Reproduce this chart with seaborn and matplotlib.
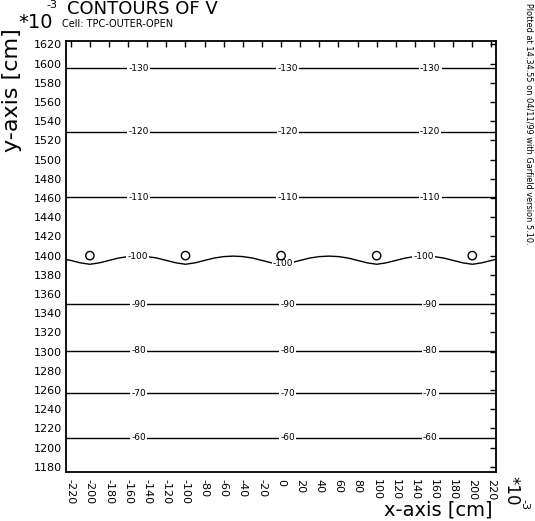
import numpy as np
import pandas as pd
import seaborn as sns
import matplotlib.pyplot as plt

# straight contour lines (level, y position in 1e-3 cm)
flat_levels = [-130, -120, -110, -90, -80, -70, -60]
flat_y = [1595, 1529, 1461, 1349.5, 1301, 1256.7, 1210.6]
flat_label_x = [-149, 7, 156]

# the wavy -100 contour that passes the wire plane
wave_x = [-225, -220, -210, -200, -190, -180, -170, -160, -150, -140, -130,
          -120, -110, -100, -90, -80, -70, -60, -50, -40, -30, -20, -10, 0,
          10, 20, 30, 40, 50, 60, 70, 80, 90, 100, 110, 120, 130, 140, 150,
          160, 170, 180, 190, 200, 210, 220, 224.5]
wave_y = [1396, 1395, 1392.5, 1391, 1392.5, 1395, 1397.5, 1399, 1399.5, 1399, 1397.5,
          1395, 1392.5, 1391, 1392.5, 1395, 1397.5, 1399, 1399.5, 1399, 1397.5, 1395, 1392.5, 1391,
          1392.5, 1395, 1397.5, 1399, 1399.5, 1399, 1397.5, 1395, 1392.5, 1391, 1392.5, 1395, 1397.5, 1399, 1399.5,
          1399, 1397.5, 1395, 1392.5, 1391, 1392.5, 1395, 1396]
wave_label_x = [-150, 2, 149]
wave_label_y = [1399.5, 1392, 1399.5]

# wires
wire_x = [-200, -100, 0, 100, 200]
wire_y = [1400, 1400, 1400, 1400, 1400]

xticks = list(range(-220, 221, 20))
yticks = list(range(1180, 1621, 20))

sns.set_theme(style='white')
plt.rcParams['font.family'] = ['DejaVu Sans']
plt.rcParams['text.color'] = 'black'
plt.rcParams['xtick.color'] = 'black'
plt.rcParams['ytick.color'] = 'black'

W, H = 535, 521
fig = plt.figure(figsize=(W / 100, H / 100), dpi=100)
ax = fig.add_axes([66 / W, 1 - 471.7 / H, 429.7 / W, 430.7 / H])

for y in flat_y:
    ax.axhline(y, color='black', lw=1.0)

wave = pd.DataFrame({'x': wave_x, 'y': wave_y})
sns.lineplot(data=wave, x='x', y='y', sort=False, color='black', lw=1.0, ax=ax)

wires = pd.DataFrame({'x': wire_x, 'y': wire_y})
sns.scatterplot(data=wires, x='x', y='y', marker='o', s=36,
                facecolor='none', edgecolor='black', linewidth=1.0, ax=ax, zorder=4)

lab_box = dict(facecolor='white', edgecolor='none', pad=0.8)
for lev, y in zip(flat_levels, flat_y):
    for x in flat_label_x:
        ax.text(x, y, str(lev), fontsize=6.5, ha='center', va='center',
                color='black', bbox=lab_box, zorder=3)
for x, y in zip(wave_label_x, wave_label_y):
    ax.text(x, y, '-100', fontsize=6.5, ha='center', va='center',
            color='black', bbox=lab_box, zorder=3)

ax.set_xlim(-225, 224.5)
ax.set_ylim(1175, 1623.5)
ax.set_xticks(xticks)
ax.set_yticks(yticks)
ax.set_xticklabels([str(v) for v in xticks], rotation=-90, fontsize=8)
ax.set_yticklabels([str(v) for v in yticks], fontsize=8)
ax.tick_params(direction='in', length=4, width=1, top=True, right=True,
               colors='black', labelcolor='black')
ax.tick_params(axis='x', pad=5)
ax.tick_params(axis='y', pad=3)
ax.set_xlabel('')
ax.set_ylabel('')
for sp in ax.spines.values():
    sp.set_color('black')
    sp.set_linewidth(1.3)

def fx(px):
    return px / W

def fy(py):
    return 1 - py / H

fig.text(fx(67), fy(13.5), 'CONTOURS OF V', fontsize=13, va='baseline', ha='left')
fig.text(fx(18), fy(28), '*10', fontsize=14, va='baseline', ha='left')
fig.text(fx(46), fy(8), '-3', fontsize=8, va='baseline', ha='left')
fig.text(fx(62), fy(27), 'Cell: TPC-OUTER-OPEN', fontsize=7, va='baseline', ha='left')
fig.text(fx(12), fy(28), 'y-axis [cm]', fontsize=16, rotation=90, ha='center', va='top')
fig.text(fx(492), fy(520), 'x-axis [cm]', fontsize=14, ha='right', va='bottom')
fig.text(fx(511), fy(476), '*10', fontsize=12, rotation=-90, ha='center', va='top')
fig.text(fx(524), fy(499), '-3', fontsize=8, rotation=-90, ha='center', va='top')
fig.text(fx(529), fy(3), 'Plotted at 14.34.55 on 04/11/99 with Garfield version 5.10.',
         fontsize=5.9, rotation=-90, ha='center', va='top')

fig.savefig('out.png', dpi=100)
